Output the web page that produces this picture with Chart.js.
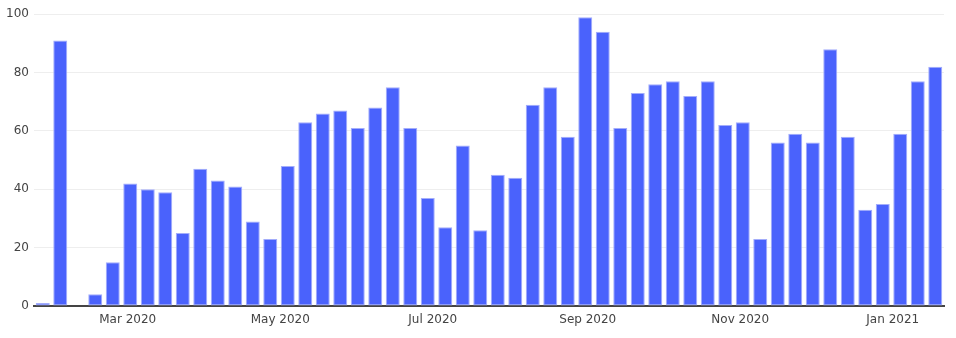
<!DOCTYPE html>
<html>
<head>
<meta charset="utf-8">
<script src="https://cdn.jsdelivr.net/npm/chart.js@4/dist/chart.umd.min.js"></script>
<style>
  html, body { margin: 0; padding: 0; background: #fff; }
  #wrap { width: 956px; height: 338px; }
</style>
</head>
<body>
<div id="wrap"><canvas id="weeklyChart"></canvas></div>
<script>
// weekly buckets (week starting Monday)
const weeks = [
  '2020-01-27', '2020-02-03', '2020-02-10', '2020-02-17', '2020-02-24',
  '2020-03-02', '2020-03-09', '2020-03-16', '2020-03-23', '2020-03-30',
  '2020-04-06', '2020-04-13', '2020-04-20', '2020-04-27',
  '2020-05-04', '2020-05-11', '2020-05-18', '2020-05-25',
  '2020-06-01', '2020-06-08', '2020-06-15', '2020-06-22', '2020-06-29',
  '2020-07-06', '2020-07-13', '2020-07-20', '2020-07-27',
  '2020-08-03', '2020-08-10', '2020-08-17', '2020-08-24', '2020-08-31',
  '2020-09-07', '2020-09-14', '2020-09-21', '2020-09-28',
  '2020-10-05', '2020-10-12', '2020-10-19', '2020-10-26',
  '2020-11-02', '2020-11-09', '2020-11-16', '2020-11-23', '2020-11-30',
  '2020-12-07', '2020-12-14', '2020-12-21', '2020-12-28',
  '2021-01-04', '2021-01-11', '2021-01-18'
];
const counts = [
  1, 91, 0, 4, 15,
  42, 40, 39, 25, 47,
  43, 41, 29, 23,
  48, 63, 66, 67,
  61, 68, 75, 61, 37,
  27, 55, 26, 45,
  44, 69, 75, 58, 99,
  94, 61, 73, 76,
  77, 72, 77, 62,
  63, 23, 56, 59, 56,
  88, 58, 33, 35,
  59, 77, 82
];
const xTickDates = ['2020-03-01', '2020-05-01', '2020-07-01', '2020-09-01', '2020-11-01', '2021-01-01'];
const xTickLabels = ['Mar 2020', 'May 2020', 'Jul 2020', 'Sep 2020', 'Nov 2020', 'Jan 2021'];
const yTicks = [0, 20, 40, 60, 80, 100];

function toDay(s) {
  const p = s.split('-');
  return Date.UTC(+p[0], +p[1] - 1, +p[2]) / 86400000;
}

document.addEventListener("DOMContentLoaded", function () {
  const ctx = document.getElementById('weeklyChart').getContext('2d');
  const days = weeks.map(toDay);
  const tickDays = xTickDates.map(toDay);

  new Chart(ctx, {
    type: 'bar',
    data: {
      datasets: [{
        data: days.map((d, i) => ({ x: d, y: counts[i] })),
        backgroundColor: '#4a62fc',
        borderColor: '#a3adfb',
        borderWidth: 1,
        borderSkipped: false,
        categoryPercentage: 1,
        barPercentage: 0.8
      }]
    },
    options: {
      responsive: true,
      maintainAspectRatio: false,
      animation: false,
      layout: { padding: { left: 0, right: 12, top: 0, bottom: 0 } },
      plugins: {
        legend: { display: false },
        tooltip: { enabled: false }
      },
      scales: {
        x: {
          type: 'linear',
          offset: false,
          min: days[0] - 3.5,
          max: days[days.length - 1] + 3.5,
          grid: { display: false, drawTicks: false, offset: false },
          border: { display: true, color: '#444', width: 2 },
          afterBuildTicks: function (scale) {
            scale.ticks = tickDays.map(v => ({ value: v }));
          },
          afterFit: function (scale) { scale.height = 32; },
          ticks: {
            autoSkip: false,
            maxRotation: 0,
            padding: 7,
            color: '#444',
            font: { family: 'DejaVu Sans', size: 12 },
            callback: function (v) {
              const i = tickDays.indexOf(v);
              return i >= 0 ? xTickLabels[i] : '';
            }
          }
        },
        y: {
          min: 0,
          max: 100.7,
          grid: { color: '#eeeeee', drawTicks: false },
          border: { display: false },
          afterBuildTicks: function (scale) {
            scale.ticks = yTicks.map(v => ({ value: v }));
          },
          afterFit: function (scale) { scale.width = 34; },
          ticks: {
            padding: 5,
            color: '#444',
            font: { family: 'DejaVu Sans', size: 12 }
          }
        }
      }
    }
  });
});
</script>
</body>
</html>
